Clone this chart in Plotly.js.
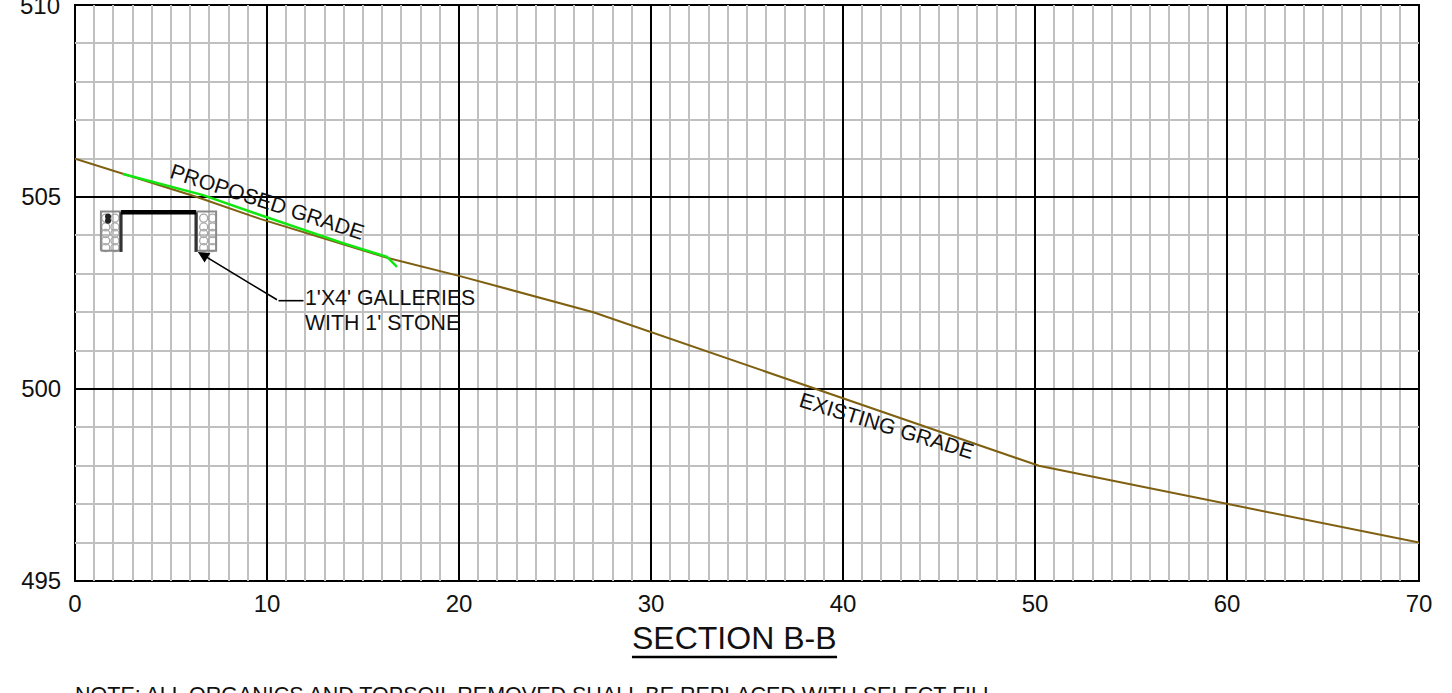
<!DOCTYPE html>
<html><head><meta charset="utf-8">
<script src="https://cdn.plot.ly/plotly-3.0.0.min.js"></script>
<style>html,body{margin:0;padding:0;background:#fff;overflow:hidden}#c{width:1452px;height:693px}</style>
</head><body><div id="c"></div><script>
const FONT='"Liberation Sans", Arial, sans-serif';
const existingX=[0,6.35,9.64,16.3,20.05,27,50.2,70];
const existingY=[506,505,504.43,503.41,502.94,502,498,496];
const proposedX=[2.5,6.67,9.64,13.96,16.25,16.77];
const proposedY=[505.6,505.05,504.53,503.8,503.44,503.18];
const galleryTopX=[2.4,6.3];
const galleryTopY=[504.6,504.6];
const wallLeftX=[2.4,2.4];
const wallRightX=[6.3,6.3];
const wallY=[503.57,504.6];
const boxLeftX=[1.35,2.35,2.35,1.35,1.35];
const boxRightX=[6.35,7.35,7.35,6.35,6.35];
const boxY=[503.6,503.6,504.62,504.62,503.6];
const stoneRows=[504.45,504.22,504.05,503.86,503.68];
const stoneLeftA=[1.6,1.6,1.6,1.6,1.6];
const stoneLeftB=[2.08,2.08,2.08,2.08,2.08];
const stoneRightA=[6.7,6.7,6.7,6.7,6.7];
const stoneRightB=[7.16,7.16,7.16,7.16,7.16];
const pipeX=[1.72,1.72];
const pipeY=[504.49,504.38];
const leaderX=[10.6,11.9];
const leaderY=[502.3,502.3];
const xTicks=[0,10,20,30,40,50,60,70];
const yTicks=[495,500,505];

const stone={symbol:'circle-open',size:8,color:'#a8a8a8',line:{width:1.3,color:'#a8a8a8'}};
const mk=(x,y,line)=>({x,y,mode:'lines',line});
const dots=(x,y,marker)=>({x,y,mode:'markers',marker});
const traces=[
 dots(stoneLeftA,stoneRows,stone),dots(stoneLeftB,stoneRows,stone),
 dots(stoneRightA,stoneRows,stone),dots(stoneRightB,stoneRows,stone),
 mk(boxLeftX,boxY,{color:'#8a8a8a',width:2}),
 mk(boxRightX,boxY,{color:'#8a8a8a',width:2}),
 dots(pipeX,pipeY,{symbol:'circle',size:6,color:'#222'}),
 mk(wallLeftX,wallY,{color:'#333',width:3}),
 mk(wallRightX,wallY,{color:'#333',width:3}),
 mk(galleryTopX,galleryTopY,{color:'#000',width:4.5}),
 mk(existingX,existingY,{color:'#7f5f10',width:2}),
 mk(proposedX,proposedY,{color:'#10e810',width:2.5}),
 mk(leaderX,leaderY,{color:'#000',width:1.6})
];
const txt=(text,x,y,size,extra)=>Object.assign({text,x,y,xref:'x',yref:'y',showarrow:false,font:{family:FONT,size,color:'#111'}},extra||{});
const axisBase={showgrid:true,gridcolor:'#000',gridwidth:2,zeroline:false,showline:false,
   minor:{dtick:1,showgrid:true,gridcolor:'#c0c0c0',gridwidth:2,ticks:''},
   ticks:'outside',tickcolor:'rgba(0,0,0,0)',tickfont:{family:FONT,size:24,color:'#111'}};
const layout={
 width:1452,height:693,paper_bgcolor:'#fff',plot_bgcolor:'#fff',showlegend:false,
 margin:{l:75,r:33,t:5,b:112,pad:0},
 font:{family:FONT,color:'#111',size:24},
 xaxis:Object.assign({},axisBase,{range:[0,70],tickvals:xTicks,ticktext:xTicks.map(String),ticklen:1}),
 yaxis:Object.assign({},axisBase,{range:[495,510],tickvals:yTicks,ticktext:yTicks.map(String),ticklen:8}),
 annotations:[
  txt('PROPOSED GRADE',9.98,504.87,21.3,{textangle:18}),
  txt('EXISTING GRADE',42.25,499.03,21.3,{textangle:17}),
  txt("1'X4' GALLERIES",11.9,502.37,21.3,{xanchor:'left'}),
  txt("WITH 1' STONE",11.9,501.72,21.3,{xanchor:'left'}),
  {x:6.4,y:503.57,xref:'x',yref:'y',ax:10.6,ay:502.3,axref:'x',ayref:'y',text:'',showarrow:true,arrowhead:2,arrowsize:1.4,arrowwidth:1.6,arrowcolor:'#000'},
  {text:'510',xref:'paper',yref:'paper',x:-0.0097,y:1,xanchor:'right',yanchor:'middle',showarrow:false,font:{family:FONT,size:24,color:'#111'}},
  {text:'SECTION B-B',xref:'paper',yref:'paper',x:0.4903,y:-0.0996,xanchor:'center',yanchor:'middle',showarrow:false,font:{family:FONT,size:32,color:'#111'}},
  {text:'NOTE: ALL ORGANICS AND TOPSOIL REMOVED SHALL BE REPLACED WITH SELECT FILL',xref:'paper',yref:'paper',x:-0.0015,y:-0.198,xanchor:'left',yanchor:'middle',showarrow:false,font:{family:FONT,size:21.5,color:'#111'}}
 ],
 shapes:[
  {type:'rect',xref:'paper',yref:'paper',x0:0,x1:1,y0:0,y1:1,line:{color:'#000',width:2},layer:'below'},
  {type:'line',xref:'paper',yref:'paper',x0:0.4144,x1:0.567,y0:-0.1319,y1:-0.1319,line:{color:'#000',width:2.5}}
 ]
};
Plotly.newPlot('c',traces,layout,{displayModeBar:false,staticPlot:true});
</script></body></html>
